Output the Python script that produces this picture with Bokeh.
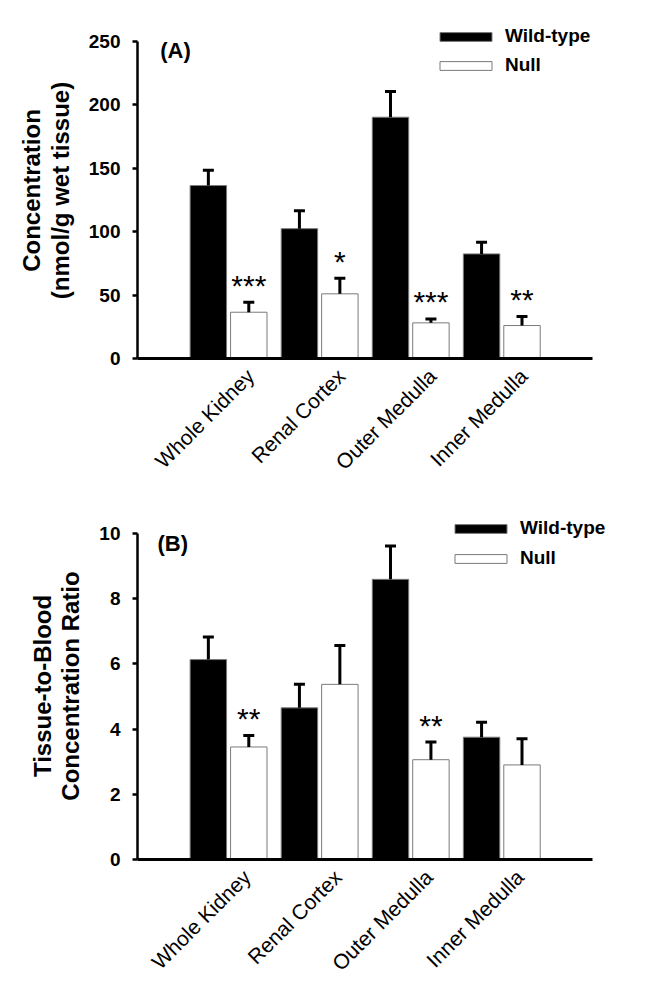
import numpy as np
from bokeh.plotting import figure
from bokeh.models import ColumnDataSource, Whisker, TeeHead, FixedTicker, Label, Range1d
from bokeh.layouts import column
from bokeh.embed import file_html
from bokeh.resources import INLINE
from bokeh.core.properties import value

# ---------------- data ----------------
regions = ["Whole Kidney", "Renal Cortex", "Outer Medulla", "Inner Medulla"]
series = ["Wild-type", "Null"]

conc_wt = [136.4, 102.4, 190.3, 82.5]
conc_wt_sem = [12.1, 14.2, 20.3, 9.2]
conc_null = [36.5, 51.0, 28.1, 26.0]
conc_null_sem = [7.9, 12.3, 3.1, 7.1]
conc_sig = ["***", "*", "***", "**"]
conc_ticks = [0, 50, 100, 150, 200, 250]

ratio_wt = [6.13, 4.65, 8.59, 3.75]
ratio_wt_sem = [0.69, 0.72, 1.02, 0.46]
ratio_null = [3.45, 5.37, 3.06, 2.90]
ratio_null_sem = [0.35, 1.19, 0.54, 0.80]
ratio_sig = ["**", "", "**", ""]
ratio_ticks = [0, 2, 4, 6, 8, 10]

FONT = "Liberation Sans"


def make_panel(wt, wt_sem, null, null_sem, sig, ticks, y_end, tag, ytitle,
               width, height, border, legend_loc, legend_spacing, tag_pos, label_shift):
    n = len(regions)
    centers = np.arange(1, n + 1, dtype=float)
    x_wt = centers - 0.222
    x_null = centers + 0.222

    p = figure(width=width, height=height, output_backend="svg",
               toolbar_location=None, tools="",
               x_range=Range1d(0, n + 1.6), y_range=Range1d(0, y_end))
    p.min_border_left, p.min_border_right, p.min_border_top, p.min_border_bottom = border
    p.xgrid.grid_line_color = None
    p.ygrid.grid_line_color = None
    p.outline_line_color = None
    p.background_fill_color = "white"
    p.border_fill_color = "white"

    src_wt = ColumnDataSource(dict(x=x_wt, top=wt, upper=np.array(wt) + np.array(wt_sem)))
    src_null = ColumnDataSource(dict(x=x_null, top=null, upper=np.array(null) + np.array(null_sem),
                                     sig=sig))

    p.vbar(x="x", top="top", width=0.4, source=src_wt, fill_color="black",
           line_color="#7a7a7a", line_width=1, legend_label=series[0])
    p.vbar(x="x", top="top", width=0.4, source=src_null, fill_color="white",
           line_color="#7a7a7a", line_width=1, legend_label=series[1])

    for src in (src_wt, src_null):
        w = Whisker(base="x", upper="upper", lower="top", source=src, dimension="height",
                    line_color="black", line_width=3, level="annotation",
                    upper_head=TeeHead(size=11, line_width=3, line_color="black"),
                    lower_head=None)
        p.add_layout(w)

    p.text(x="x", y="upper", text="sig", source=src_null, text_font=value(FONT),
           text_font_size="30px", text_align="center", text_baseline="alphabetic",
           y_offset=-17, text_color="black")

    # y axis
    ya = p.yaxis[0]
    ya.bounds = (ticks[0], ticks[-1])
    ya.ticker = FixedTicker(ticks=ticks)
    ya.major_tick_out = 5
    ya.major_tick_in = 0
    ya.minor_tick_line_color = None
    ya.axis_line_width = 2.5
    ya.major_tick_line_width = 2.5
    ya.major_label_text_font = FONT
    ya.major_label_text_font_style = "bold"
    ya.major_label_text_font_size = "19px"
    ya.major_label_text_color = "black"
    ya.major_label_standoff = 12
    ya.axis_label = ytitle
    ya.axis_label_text_font = FONT
    ya.axis_label_text_font_style = "bold"
    ya.axis_label_text_font_size = "24px"
    ya.axis_label_text_color = "black"
    ya.axis_label_standoff = 12
    ya.axis_label_text_line_height = 1.05

    # x axis
    xa = p.xaxis[0]
    xa.bounds = (0, n + 1)
    tick_pos = [float(c + label_shift) for c in centers]
    xa.ticker = FixedTicker(ticks=tick_pos)
    xa.major_label_overrides = {t: r for t, r in zip(tick_pos, regions)}
    xa.major_label_orientation = np.pi / 4
    xa.major_tick_line_color = None
    xa.minor_tick_line_color = None
    xa.axis_line_width = 3
    xa.major_label_text_font = FONT
    xa.major_label_text_font_size = "21px"
    xa.major_label_text_color = "black"
    xa.major_label_standoff = 8

    # panel tag
    p.add_layout(Label(x=tag_pos[0], y=ticks[-1], text=tag, text_font=FONT,
                       text_font_size="22px", text_font_style="bold", text_color="black",
                       text_baseline="middle", y_offset=tag_pos[1]))

    lg = p.legend[0]
    lg.location = legend_loc
    lg.background_fill_alpha = 0
    lg.border_line_color = None
    lg.padding = 0
    lg.margin = 0
    lg.spacing = legend_spacing
    lg.label_height = 20
    lg.glyph_height = 11
    lg.glyph_width = 65
    lg.label_standoff = 7
    lg.label_text_font = FONT
    lg.label_text_font_size = "19px"
    lg.label_text_font_style = "bold"
    lg.label_text_color = "black"
    return p


p1 = make_panel(conc_wt, conc_wt_sem, conc_null, conc_null_sem, conc_sig, conc_ticks, 265,
                "(A)", "Concentration\n(nmol/g wet tissue)",
                666, 490, (137, 19, 22, 132), (296, 282), 7, (0.25, -9), 0.24)
p2 = make_panel(ratio_wt, ratio_wt_sem, ratio_null, ratio_null_sem, ratio_sig, ratio_ticks, 10.64,
                "(B)", "Tissue-to-Blood\nConcentration Ratio",
                666, 499, (127, 15, 22, 130), (311, 290), 8, (0.22, -10), 0.20)

layout = column(p1, p2, spacing=0)
open("out.html", "w").write(file_html(layout, INLINE))
